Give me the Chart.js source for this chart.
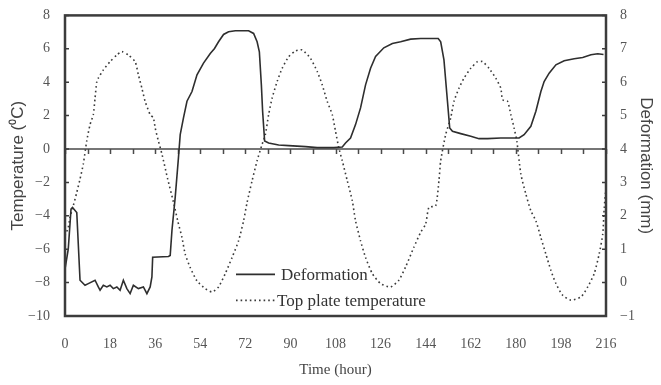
<!DOCTYPE html>
<html>
<head>
<meta charset="utf-8">
<title>Deformation and top plate temperature</title>
<script src="https://cdn.jsdelivr.net/npm/chart.js"></script>
<style>
  body { margin: 0; background: #fff; }
</style>
</head>
<body>
<canvas id="chart" width="661" height="385"></canvas>

<script>
// top plate temperature (left axis, °C)
const tempHours = [0, 1.3, 2, 3.3, 4.7, 6, 7.3, 8.7, 10, 11.3, 12, 12.7, 13.3, 15.3, 18, 20.7, 22.7, 25.3, 28, 29.3,
    30.7, 32, 34, 35.3, 36, 37.3, 38.7, 41, 43.5, 45, 46.7, 48, 50, 52.7, 56, 58.7, 61.3, 64, 66.7, 69.3,
    71.3, 72.7, 74.7, 76.7, 78.7, 80, 81.3, 82.7, 84.7, 86.7, 89.3, 92, 94.7, 98, 100.7, 102.7, 104.7, 106.7, 108, 109.3,
    110.7, 112.7, 114.7, 116, 118, 120, 122.7, 126, 130, 133.3, 136, 139.3, 142, 144, 145.3, 148, 149.3, 150, 152, 154,
    155.3, 157.3, 159.3, 162, 164.7, 166.7, 169.3, 172, 174, 174.7, 176.7, 178, 179.3, 180.4, 182, 184, 186, 188, 190, 192,
    194, 196, 198.7, 202, 206, 208.7, 211.3, 213.3, 214.7, 215.3, 216];
const tempValues = [-5.2, -4.7, -4.1, -3.4, -2.6, -1.8, -0.9, 0.5, 1.46, 2.06, 3.05, 4.04, 4.24, 4.74, 5.23, 5.63, 5.83, 5.63, 5.23, 4.44,
    3.64, 2.85, 2.06, 1.86, 1.26, 0.47, -0.3, -1.8, -3.3, -4.3, -5.3, -6.3, -7.1, -7.9, -8.36, -8.56, -8.26, -7.46, -6.5, -5.5,
    -4.3, -3.2, -1.9, -0.7, 0.28, 0.87, 2.06, 3.05, 4.04, 4.83, 5.53, 5.87, 5.93, 5.43, 4.64, 3.84, 2.85, 2.06, 1.07, 0.08,
    -0.7, -1.9, -3.1, -4.3, -5.5, -6.5, -7.46, -8.06, -8.26, -7.86, -7.06, -5.88, -4.99, -4.49, -3.5, -3.4, -1.9, -0.7, 0.87, 1.86,
    2.85, 3.64, 4.24, 4.83, 5.23, 5.23, 4.83, 4.24, 3.64, 2.95, 2.85, 2.06, 1.26, 0.47, -1.5, -2.7, -3.7, -4.3, -5.3, -6.3,
    -7.27, -8.06, -8.76, -9.05, -8.86, -8.26, -7.46, -6.27, -5.1, -3.5, -2.3];

// deformation (right axis, mm)
const defHours = [0, 1.3, 2.4, 3, 4.7, 6, 8, 9.3, 12, 13.3, 14, 15.3, 16.7, 18, 19.3, 20.7, 22, 23.3, 24.7, 26,
    27.3, 29.3, 31.3, 32.7, 34, 34.7, 35, 41.3, 42, 42.7, 44, 45.3, 46, 47.3, 48.7, 50.7, 52.7, 55.3, 58, 59.7,
    61.3, 63.3, 65.3, 68, 73.3, 75.3, 76.7, 77.6, 78.4, 78.9, 79.7, 81.3, 85.3, 89.3, 96, 100.7, 107.3, 110.7, 112, 114,
    116, 118, 120, 122, 124, 127.3, 130.7, 134, 138, 142, 149, 150, 151.3, 152.7, 153.6, 154.7, 158, 162, 165.3, 168.7,
    174, 181.3, 183.3, 186, 188, 190, 191.3, 193.3, 196, 199.3, 203.3, 206.7, 210, 212.7, 215];
const defValues = [0.4, 1.0, 2.2, 2.25, 2.1, 0.07, -0.08, -0.03, 0.07, -0.13, -0.23, -0.08, -0.13, -0.08, -0.18, -0.13, -0.23, 0.07, -0.18, -0.33,
    -0.08, -0.18, -0.13, -0.33, -0.13, 0.17, 0.76, 0.78, 0.81, 1.56, 2.55, 3.74, 4.43, 4.93, 5.43, 5.72, 6.22, 6.57, 6.86, 7.01,
    7.21, 7.43, 7.51, 7.54, 7.54, 7.46, 7.21, 6.91, 5.92, 5.13, 4.24, 4.18, 4.12, 4.1, 4.07, 4.04, 4.04, 4.06, 4.18, 4.33,
    4.73, 5.23, 5.92, 6.42, 6.77, 7.03, 7.16, 7.21, 7.29, 7.31, 7.31, 7.21, 6.67, 5.43, 4.63, 4.53, 4.46, 4.38, 4.31, 4.31,
    4.33, 4.33, 4.43, 4.68, 5.13, 5.72, 6.02, 6.27, 6.52, 6.64, 6.70, 6.74, 6.82, 6.85, 6.83];

// axis ranges / tick steps
const xRange = [0, 216], xStep = 18, xMinorStep = 9;
const tempRange = [-10, 8], tempStep = 2;
const defRange = [-1, 8], defStep = 1;

const ink = '#3c3c3c';
const serif = '"Liberation Serif", "Times New Roman", serif';
const sans = '"Liberation Sans", Arial, sans-serif';

const minus = v => String(v).replace('-', '\u2212');

// frame, zero line, inward ticks and the in-plot legend
const decor = {
    id: 'decor',
    beforeDatasetsDraw(chart) {
        const {ctx, chartArea: a, scales} = chart;
        const y0 = scales.y.getPixelForValue(0);
        ctx.save();
        ctx.strokeStyle = '#4a4a4a';
        ctx.lineWidth = 1.5;
        ctx.beginPath();
        ctx.moveTo(a.left, y0);
        ctx.lineTo(a.right, y0);
        for (let t = xRange[0]; t <= xRange[1]; t += xMinorStep) {
            const px = Math.round(scales.x.getPixelForValue(t)) + 0.5;
            ctx.moveTo(px, y0);
            ctx.lineTo(px, y0 + 5);
        }
        ctx.stroke();
        ctx.restore();
    },
    afterDraw(chart) {
        const {ctx, chartArea: a, scales} = chart;
        ctx.save();
        ctx.strokeStyle = ink;
        ctx.lineWidth = 1.5;
        ctx.beginPath();
        for (let v = tempRange[0]; v <= tempRange[1]; v += tempStep) {
            const py = scales.y.getPixelForValue(v);
            ctx.moveTo(a.left, py);
            ctx.lineTo(a.left + 4, py);
        }
        for (let v = defRange[0]; v <= defRange[1]; v += defStep) {
            const py = scales.y1.getPixelForValue(v);
            ctx.moveTo(a.right, py);
            ctx.lineTo(a.right - 4, py);
        }
        ctx.stroke();

        ctx.lineWidth = 2.5;
        ctx.strokeRect(a.left, a.top, a.right - a.left, a.bottom - a.top);

        // legend
        const lx = a.left + 171, ly = a.top + 259;
        chart.data.datasets.forEach((ds, i) => {
            const yy = ly + i * 26;
            ctx.beginPath();
            ctx.strokeStyle = ds.borderColor;
            ctx.lineWidth = ds.borderWidth;
            ctx.setLineDash(ds.borderDash || []);
            ctx.moveTo(lx, yy);
            ctx.lineTo(lx + 39, yy);
            ctx.stroke();
            ctx.setLineDash([]);
            ctx.fillStyle = '#333';
            ctx.font = '17px ' + serif;
            ctx.textBaseline = 'middle';
            ctx.fillText(ds.label, lx + (i === 0 ? 45 : 41), yy + 1);
        });
        ctx.restore();
    }
};

const ctx = document.getElementById('chart').getContext('2d');

const chart = new Chart(ctx, {
    type: 'line',
    data: {
        datasets: [{
            label: 'Deformation',
            data: defHours.map((h, i) => ({x: h, y: defValues[i]})),
            yAxisID: 'y1',
            borderColor: '#2e2e2e',
            borderWidth: 1.6,
            pointRadius: 0,
            tension: 0
        }, {
            label: 'Top plate temperature',
            data: tempHours.map((h, i) => ({x: h, y: tempValues[i]})),
            yAxisID: 'y',
            borderColor: '#3a3a3a',
            borderWidth: 1.6,
            borderDash: [1.6, 3],
            pointRadius: 0,
            tension: 0.2
        }]
    },
    options: {
        responsive: false,
        animation: false,
        devicePixelRatio: 1,
        layout: {padding: {top: 7, left: 0, right: 0, bottom: 0}},
        plugins: {legend: {display: false}, tooltip: {enabled: false}},
        scales: {
            x: {
                type: 'linear',
                min: xRange[0],
                max: xRange[1],
                grid: {display: false},
                border: {display: false},
                ticks: {stepSize: xStep, padding: 12, color: '#555', font: {family: serif, size: 14}},
                title: {display: true, text: 'Time (hour)', color: '#444', font: {family: serif, size: 15}, padding: {top: 0, bottom: 6}},
                afterFit: s => { s.height = 69; }
            },
            y: {
                position: 'left',
                min: tempRange[0],
                max: tempRange[1],
                grid: {display: false},
                border: {display: false},
                ticks: {stepSize: tempStep, padding: 7, color: '#555', font: {family: serif, size: 14}, callback: minus},
                title: {display: true, text: 'Temperature (\u2070C)', color: '#444', font: {family: sans, size: 17}, padding: {top: 8, bottom: 8}},
                afterFit: s => { s.width = 65; }
            },
            y1: {
                position: 'right',
                min: defRange[0],
                max: defRange[1],
                grid: {display: false},
                border: {display: false},
                ticks: {stepSize: defStep, padding: 6, color: '#555', font: {family: serif, size: 14}, callback: minus},
                title: {display: true, text: 'Deformation (mm)', color: '#444', font: {family: sans, size: 17}, padding: {top: 5, bottom: 5}},
                afterFit: s => { s.width = 55; }
            }
        }
    },
    plugins: [decor]
});
</script>
</body>
</html>
